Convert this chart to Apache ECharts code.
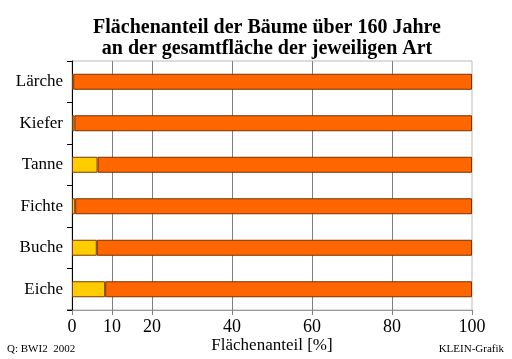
<!DOCTYPE html>
<html>
<head>
<meta charset="utf-8">
<script src="https://cdn.jsdelivr.net/npm/echarts@6/dist/echarts.min.js"></script>
<style>html,body{margin:0;padding:0;background:#fff}#c{width:512px;height:359px}</style>
</head>
<body>
<div id="c"></div>
<script>
var categories = ['Eiche', 'Buche', 'Fichte', 'Tanne', 'Kiefer', 'Lärche'];
var oldShare = [8.3, 6.2, 0.8, 6.4, 0.6, 0.3];
var restShare = [91.7, 93.8, 99.2, 93.6, 99.4, 99.7];
var xTicks = [0, 10, 20, 40, 60, 80, 100];
var extraGrid = [10];

var serif = '"Liberation Serif", "DejaVu Serif", serif';
var chart = echarts.init(document.getElementById('c'), null, {renderer: 'canvas'});
chart.setOption({
  animation: false,
  title: {
    text: 'Flächenanteil der Bäume über 160 Jahre\nan der gesamtfläche der jeweiligen Art',
    left: 262, top: 12, textAlign: 'center',
    textStyle: {fontFamily: serif, fontWeight: 'bold', fontSize: 20, lineHeight: 21, color: '#000'}
  },
  graphic: [
    {type: 'text', left: 7, top: 344, style: {text: 'Q: BWI2  2002', font: '11px ' + serif, fill: '#000'}},
    {type: 'text', right: 8, top: 344, style: {text: 'KLEIN-Grafik', font: '11px ' + serif, fill: '#000'}},
    {type: 'line', shape: {x1: 67, y1: 309.5, x2: 72, y2: 309.5}, style: {stroke: '#999999', lineWidth: 1}}
  ],
  grid: {left: 72, right: 40, top: 61, bottom: 49, outerBoundsMode: 'none', containLabel: false,
         show: true, borderColor: '#bbbbbb', borderWidth: 1},
  xAxis: {
    type: 'value', min: 0, max: 100, interval: 20,
    name: 'Flächenanteil [%]', nameLocation: 'middle', nameGap: 27, nameMoveOverlap: false,
    nameTextStyle: {fontFamily: serif, fontSize: 17, color: '#000'},
    axisLine: {show: true, lineStyle: {color: '#999999', width: 1}},
    axisTick: {show: true, customValues: xTicks, length: 5, lineStyle: {color: '#808080'}},
    axisLabel: {customValues: xTicks, fontFamily: serif, fontSize: 18, color: '#000', margin: 8},
    splitLine: {show: true, showMinLine: false, showMaxLine: false, lineStyle: {color: '#808080', width: 1}}
  },
  yAxis: {
    type: 'category', data: categories,
    axisLine: {show: true, lineStyle: {color: '#000', width: 1}},
    axisTick: {show: true, length: 5, lineStyle: {color: '#000'}},
    axisLabel: {fontFamily: serif, fontSize: 17, color: '#000', margin: 9},
    splitLine: {show: false}
  },
  series: [
    {
      type: 'bar', stack: 'a', data: oldShare, barWidth: 16,
      itemStyle: {color: '#ffcc00', borderColor: '#7a3a00', borderWidth: 1},
      markLine: {
        silent: true, symbol: 'none', z: 1, animation: false,
        label: {show: false},
        lineStyle: {color: '#808080', width: 1, type: 'solid'},
        data: extraGrid.map(function (v) { return {xAxis: v}; })
      }
    },
    {
      type: 'bar', stack: 'a', data: restShare, barWidth: 16,
      itemStyle: {color: '#ff6600', borderColor: '#7a3000', borderWidth: 1}
    }
  ]
});
</script>
</body>
</html>
